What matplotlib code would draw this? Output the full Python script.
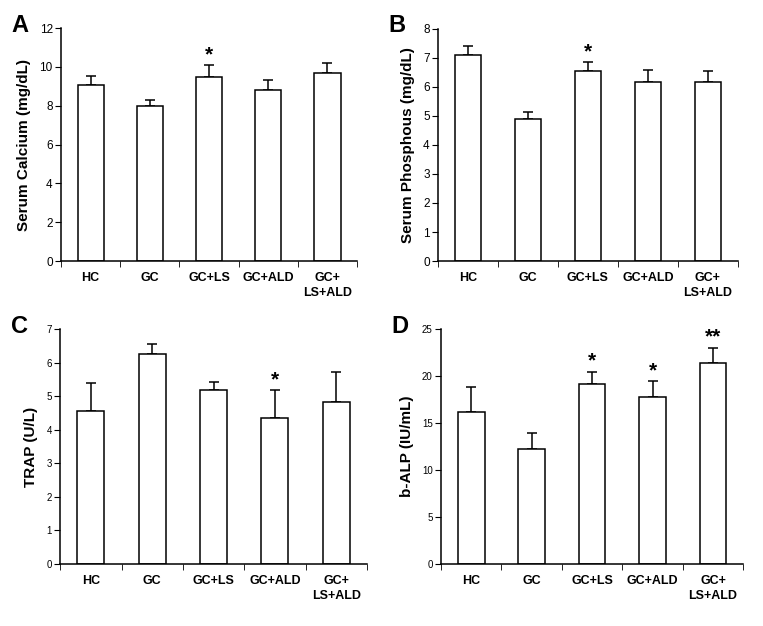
import matplotlib
matplotlib.use('Agg')
import matplotlib.pyplot as plt
import numpy as np

plt.rcParams['font.family'] = ['Liberation Sans', 'DejaVu Sans']

groups = ['HC', 'GC', 'GC+LS', 'GC+ALD', 'GC+\nLS+ALD']

calcium = [9.05, 8.0, 9.5, 8.8, 9.7]
calcium_err = [0.5, 0.3, 0.6, 0.55, 0.5]
calcium_sig = ['', '', '*', '', '']

phosphorus = [7.1, 4.9, 6.55, 6.18, 6.18]
phosphorus_err = [0.3, 0.25, 0.32, 0.4, 0.37]
phosphorus_sig = ['', '', '*', '', '']

trap = [4.57, 6.25, 5.2, 4.35, 4.82]
trap_err = [0.83, 0.32, 0.22, 0.85, 0.9]
trap_sig = ['', '', '', '*', '']

balp = [16.2, 12.3, 19.2, 17.75, 21.4]
balp_err = [2.7, 1.65, 1.3, 1.75, 1.65]
balp_sig = ['', '', '*', '*', '**']

panels = [
    ('A', calcium, calcium_err, calcium_sig, 'Serum Calcium (mg/dL)', 12, 2, 8.5,
     [0.080, 0.583, 0.388, 0.372]),
    ('B', phosphorus, phosphorus_err, phosphorus_sig, 'Serum Phosphous (mg/dL)', 8, 1, 8.5,
     [0.574, 0.583, 0.393, 0.371]),
    ('C', trap, trap_err, trap_sig, 'TRAP (U/L)', 7, 1, 7,
     [0.079, 0.099, 0.402, 0.375]),
    ('D', balp, balp_err, balp_sig, 'b-ALP (IU/mL)', 25, 5, 7,
     [0.578, 0.099, 0.396, 0.375]),
]

fig = plt.figure(figsize=(7.63, 6.26), dpi=100)

for letter, vals, errs, sig, ylabel, ymax, step, tfs, pos in panels:
    ax = fig.add_axes(pos)
    x = np.arange(len(groups))
    ax.bar(x, vals, width=0.44, color='white', edgecolor='black', linewidth=1.1, zorder=2)
    ax.errorbar(x, vals, yerr=[np.zeros(len(vals)), errs], fmt='none', ecolor='black',
                elinewidth=1.1, capsize=3.5, capthick=1.1, zorder=1)
    for xi, v, e, s in zip(x, vals, errs, sig):
        if s:
            ax.text(xi, v + e + ymax * 0.003, s, ha='center', va='bottom',
                    fontsize=15, fontweight='bold')
    ax.set_xlim(-0.5, 4.5)
    ax.set_ylim(0, ymax)
    ax.set_yticks(np.arange(0, ymax + 0.01, step))
    ax.set_yticklabels([str(int(t)) for t in np.arange(0, ymax + 0.01, step)], fontsize=tfs)
    ax.set_xticks(x)
    ax.set_xticklabels(groups, fontsize=9, fontweight='bold', linespacing=1.3)
    ax.set_xticks(np.arange(-0.5, 4.6, 1), minor=True)
    ax.tick_params(axis='x', which='major', length=0, pad=8)
    ax.tick_params(axis='x', which='minor', length=4, direction='out')
    ax.tick_params(axis='y', length=4, direction='out', pad=2)
    for sp in ['left', 'bottom']:
        ax.spines[sp].set_linewidth(1.1)
    ax.spines['top'].set_visible(False)
    ax.spines['right'].set_visible(False)
    ax.set_ylabel(ylabel, fontsize=11, fontweight='bold', labelpad=6)
    fig.text(pos[0] - 0.065, pos[1] + pos[3] + 0.005, letter, fontsize=17,
             fontweight='bold', ha='left', va='center')

plt.savefig('out.png', dpi=100)
plt.close()
print('done')
